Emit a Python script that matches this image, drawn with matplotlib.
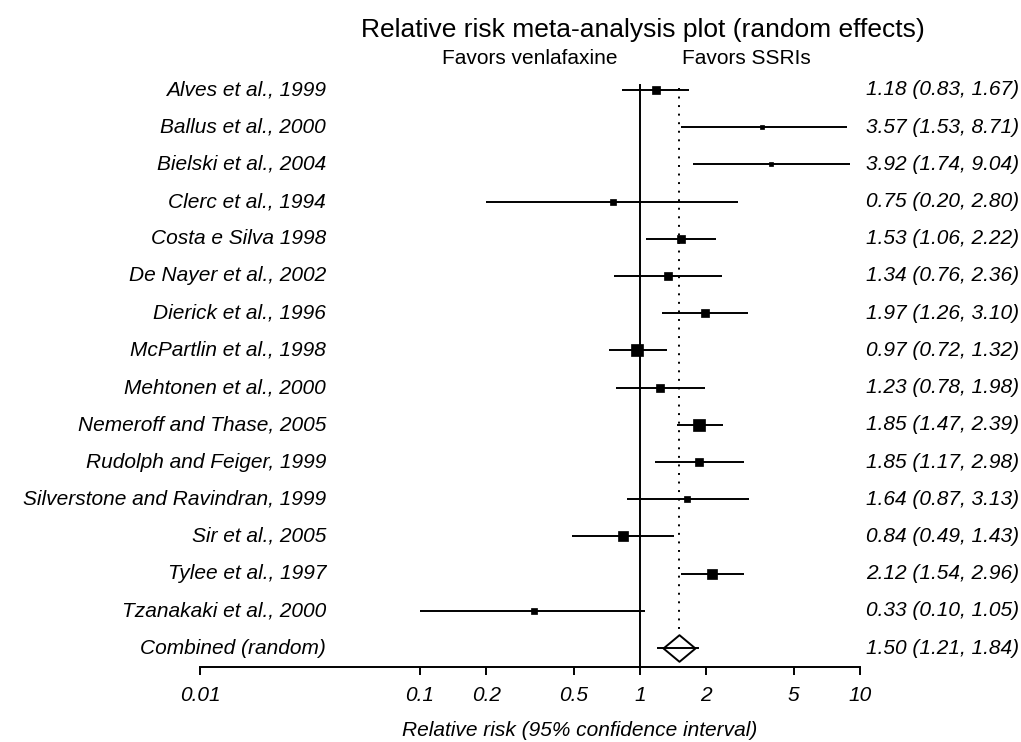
import numpy as np
import matplotlib
matplotlib.use("Agg")
import matplotlib.pyplot as plt
from matplotlib.path import Path
from matplotlib.transforms import blended_transform_factory

plt.rcParams['font.family'] = ['Liberation Sans', 'DejaVu Sans']

studies = ["Alves et al., 1999", "Ballus et al., 2000", "Bielski et al., 2004",
           "Clerc et al., 1994", "Costa e Silva 1998", "De Nayer et al., 2002",
           "Dierick et al., 1996", "McPartlin et al., 1998", "Mehtonen et al., 2000",
           "Nemeroff and Thase, 2005", "Rudolph and Feiger, 1999",
           "Silverstone and Ravindran, 1999", "Sir et al., 2005", "Tylee et al., 1997",
           "Tzanakaki et al., 2000"]
rr = [1.18, 3.57, 3.92, 0.75, 1.53, 1.34, 1.97, 0.97, 1.23, 1.85, 1.85, 1.64, 0.84, 2.12, 0.33]
lo = [0.83, 1.53, 1.74, 0.20, 1.06, 0.76, 1.26, 0.72, 0.78, 1.47, 1.17, 0.87, 0.49, 1.54, 0.10]
hi = [1.67, 8.71, 9.04, 2.80, 2.22, 2.36, 3.10, 1.32, 1.98, 2.39, 2.98, 3.13, 1.43, 2.96, 1.05]
weights = [7.2, 2.1, 2.1, 2.6, 7.2, 5.1, 7.2, 15.7, 7.2, 12.6, 6.1, 3.3, 8.4, 10.4, 2.9]

pooled_label = "Combined (random)"
pooled = 1.50
pooled_lo = 1.21
pooled_hi = 1.84

xticks = [0.01, 0.1, 0.2, 0.5, 1, 2, 5, 10]
xticklabels = ["0.01", "0.1", "0.2", "0.5", "1", "2", "5", "10"]

fs = 15
W, H = 1021, 742
fig = plt.figure(figsize=(W/100, H/100), dpi=100)
ax = fig.add_axes([200/W, 1 - 667/H, 660/W, (667 - 78.8)/H])
ax.set_xscale('log')
ax.set_xlim(0.01, 10)
ax.set_ylim(15.51, -0.3)

n = len(studies)
rows = np.arange(n)

# study intervals and weighted boxes
for i in range(n):
    ax.plot([lo[i], hi[i]], [rows[i], rows[i]], color='black', lw=1.4, solid_capstyle='butt')
    ax.plot(rr[i], rows[i], marker='s', color='black', ms=2.3*np.sqrt(weights[i]),
            mew=0.5, zorder=4)

# pooled estimate: diamond over its interval
diamond = Path([(-1.2, 0), (0, 1), (1.2, 0), (0, -1), (-1.2, 0)],
               [Path.MOVETO, Path.LINETO, Path.LINETO, Path.LINETO, Path.CLOSEPOLY])
ax.plot(pooled, n, marker=diamond, ms=23, mfc='white', mec='black', mew=1.4, zorder=5)
ax.plot([pooled_lo, pooled_hi], [n, n], color='black', lw=1.4, zorder=6)

# reference line at 1 and dotted line at pooled estimate
ax.plot([1, 1], [-0.13, 15.51], color='black', lw=1.4, clip_on=False)
ax.plot([pooled, pooled], [-0.06, n - 0.36], color='black', lw=1.4,
        linestyle=(0, (1.0, 3.4)), dash_capstyle='butt')

for s in ['top', 'right', 'left']:
    ax.spines[s].set_visible(False)
ax.spines['bottom'].set_linewidth(1.4)
ax.set_yticks([])
ax.set_xticks(xticks)
ax.set_xticklabels(xticklabels, fontsize=fs, fontstyle='italic')
ax.xaxis.set_minor_locator(matplotlib.ticker.NullLocator())
ax.tick_params(axis='x', direction='out', length=6, width=1.4, pad=8)

# row labels and values
tr = blended_transform_factory(fig.transFigure, ax.transData)
for i in range(n):
    fig.text(326/W, rows[i], studies[i], transform=tr, ha='right', va='center',
             fontsize=fs, fontstyle='italic')
    fig.text(1019/W, rows[i], "%.2f (%.2f, %.2f)" % (rr[i], lo[i], hi[i]),
             transform=tr, ha='right', va='center', fontsize=fs, fontstyle='italic')
fig.text(326/W, n, pooled_label, transform=tr, ha='right', va='center',
         fontsize=fs, fontstyle='italic')
fig.text(1019/W, n, "%.2f (%.2f, %.2f)" % (pooled, pooled_lo, pooled_hi),
         transform=tr, ha='right', va='center', fontsize=fs, fontstyle='italic')

fig.text(643/W, 1 - 37/H, "Relative risk meta-analysis plot (random effects)",
         ha='center', va='baseline', fontsize=19)
fig.text(617/W, 1 - 64/H, "Favors venlafaxine", ha='right', va='baseline', fontsize=fs)
fig.text(682/W, 1 - 64/H, "Favors SSRIs", ha='left', va='baseline', fontsize=fs)
fig.text(580/W, 1 - 736/H, "Relative risk (95% confidence interval)",
         ha='center', va='baseline', fontsize=fs, fontstyle='italic')

fig.savefig("out.png", dpi=100)
